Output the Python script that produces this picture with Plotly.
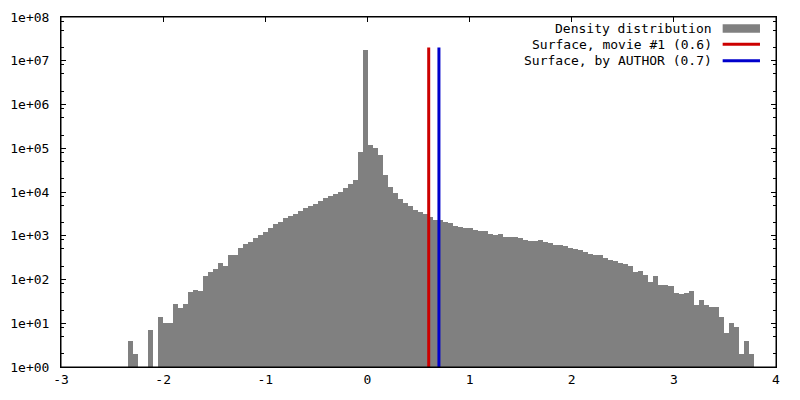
import plotly.graph_objects as go

# Histogram of density values (counts per bin)
bin_first_center = -2.32
bin_width = 0.049
counts = [4, 2, 0, 0, 7, 0, 14, 10, 10, 27, 22, 27, 52, 57, 55, 120, 148, 174, 238, 204,
          363, 363, 525, 648, 720, 889, 1040, 1219, 1504, 1857, 2062, 2545, 2828, 3141,
          3678, 4310, 4786, 5320, 6230, 7300, 8100, 9000, 10000, 12340, 15240, 18800,
          82000, 17600000, 119000, 101000, 70000, 24500, 13000, 9480, 6920, 5600, 4786,
          3880, 3490, 3200, 2683, 2290, 2290, 2062, 1960, 1671, 1585, 1504, 1504, 1353,
          1284, 1284, 1097, 1040, 1097, 936, 936, 936, 889, 800, 760, 760, 800, 720, 684,
          615, 615, 584, 525, 500, 473, 426, 383, 363, 363, 310, 279, 265, 238, 226, 204,
          148, 156, 126, 88, 120, 75, 75, 71, 49, 47, 49, 55, 26, 34, 26, 23, 23, 14, 6,
          10, 8, 2, 4, 2]
bin_centers = [bin_first_center + i * bin_width for i in range(len(counts))]

# Surface thresholds
surface_movie = 0.6
surface_author = 0.7
line_y = [1, 2e7]

legend_labels = ["Density distribution", "Surface, movie #1 (0.6)", "Surface, by AUTHOR (0.7)"]

y_tick_vals = [1, 10, 100, 1e3, 1e4, 1e5, 1e6, 1e7, 1e8]
y_tick_text = ["1e+00", "1e+01", "1e+02", "1e+03", "1e+04", "1e+05", "1e+06", "1e+07", "1e+08"]
x_tick_vals = [-3, -2, -1, 0, 1, 2, 3, 4]
x_tick_text = ["-3", "-2", "-1", "0", "1", "2", "3", "4"]

GRAY = "#808080"
RED = "#cc0000"
BLUE = "#0000cc"
FONT = "DejaVu Sans Mono"

fig = go.Figure()
fig.add_trace(go.Bar(
    x=bin_centers,
    y=[c if c > 0 else None for c in counts],
    width=bin_width,
    marker=dict(color=GRAY, line=dict(width=0)),
    name=legend_labels[0],
    showlegend=False,
))
fig.add_trace(go.Scatter(
    x=[surface_movie, surface_movie], y=line_y, mode="lines",
    line=dict(color=RED, width=3), name=legend_labels[1], showlegend=False,
))
fig.add_trace(go.Scatter(
    x=[surface_author, surface_author], y=line_y, mode="lines",
    line=dict(color=BLUE, width=3), name=legend_labels[2], showlegend=False,
))

minor_vals = []
for e in range(0, 8):
    for m in (2, 5, 8):
        minor_vals.append(m * 10 ** e)

fig.update_layout(
    width=800, height=400,
    margin=dict(l=53, r=32, t=9, b=41, autoexpand=False),
    paper_bgcolor="white", plot_bgcolor="white",
    font=dict(family=FONT, size=13, color="black"),
    bargap=0,
    showlegend=False,
)
fig.update_xaxes(
    range=[-3, 4], tickvals=x_tick_vals, ticktext=x_tick_text,
    ticks="inside", ticklen=5, tickcolor="black", tickwidth=1,
    showline=True, linecolor="black", linewidth=1, mirror="ticks",
    showgrid=False, zeroline=False, layer="below traces",
    tickfont=dict(family=FONT, size=13, color="black"),
)
fig.update_yaxes(
    type="log", range=[0, 8], tickvals=y_tick_vals, ticktext=y_tick_text,
    ticks="inside", ticklen=5, tickcolor="black", tickwidth=1,
    minor=dict(tickvals=minor_vals, ticks="inside", ticklen=3, tickcolor="black", tickwidth=1, showgrid=False),
    showline=True, linecolor="black", linewidth=1, mirror="ticks",
    showgrid=False, zeroline=False, layer="below traces",
    tickfont=dict(family=FONT, size=13, color="black"),
    ticklabelstandoff=8,
)

# border on top of the bars
fig.add_shape(type="rect", xref="paper", yref="paper", x0=0, x1=1, y0=0, y1=1,
              line=dict(color="black", width=1), layer="above")

# gnuplot-style key: right-aligned text followed by the sample
text_x = 0.913
sample_x0, sample_x1 = 0.9254, 0.9776
row_y = [0.967, 0.922, 0.875]
for label, yy in zip(legend_labels, row_y):
    fig.add_annotation(x=text_x, y=yy, xref="paper", yref="paper", text=label,
                       showarrow=False, xanchor="right", yanchor="middle",
                       font=dict(family=FONT, size=13, color="black"))
fig.add_shape(type="rect", xref="paper", yref="paper", x0=sample_x0, x1=sample_x1,
              y0=0.955, y1=0.979, fillcolor=GRAY, line=dict(width=0), layer="above")
fig.add_shape(type="line", xref="paper", yref="paper", x0=sample_x0, x1=sample_x1,
              y0=row_y[1], y1=row_y[1], line=dict(color=RED, width=3), layer="above")
fig.add_shape(type="line", xref="paper", yref="paper", x0=sample_x0, x1=sample_x1,
              y0=row_y[2], y1=row_y[2], line=dict(color=BLUE, width=3), layer="above")

fig.write_html("out.html")
